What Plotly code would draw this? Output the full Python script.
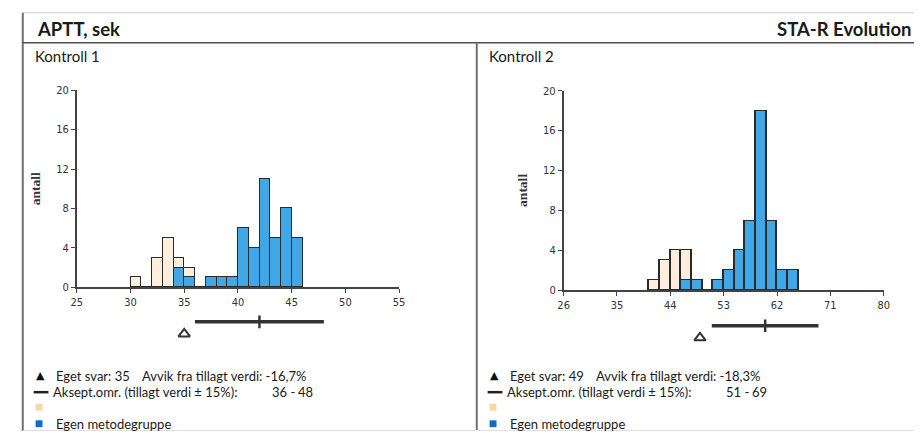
import plotly.graph_objects as go

W, H = 920, 438

# ---------------- data ----------------
k1_bin_edges = [30, 31, 32, 33, 34, 35, 36, 37, 38, 39, 40, 41, 42, 43, 44, 45]
k1_bin_width = 1.0
k1_other = [1, 0, 3, 5, 1, 1, 0, 0, 0, 0, 0, 0, 0, 0, 0, 0]
k1_own = [0, 0, 0, 0, 2, 1, 0, 1, 1, 1, 6, 4, 11, 5, 8, 5]
k1_result = 35
k1_target = 42
k1_accept = [36, 48]
k1_xticks = [25, 30, 35, 40, 45, 50, 55]

k2_bin_edges = [40.4, 42.2, 44.0, 45.8, 47.6, 49.4, 51.2, 53.0, 54.8, 56.6, 58.4, 60.2, 62.0, 63.8]
k2_bin_width = 1.8
k2_other = [1, 3, 4, 3, 0, 0, 0, 0, 0, 0, 0, 0, 0, 0]
k2_own = [0, 0, 0, 1, 1, 0, 1, 2, 4, 7, 18, 7, 2, 2]
k2_result = 49
k2_target = 60
k2_accept = [51, 69]
k2_xticks = [26, 35, 44, 53, 62, 71, 80]

yticks = [0, 4, 8, 12, 16, 20]

leg1 = ["Eget svar: 35", "Avvik fra tillagt verdi: -16,7%", "Aksept.omr. (tillagt verdi ± 15%):", "36 -", "48", "Egen metodegruppe"]
leg2 = ["Eget svar: 49", "Avvik fra tillagt verdi: -18,3%", "Aksept.omr. (tillagt verdi ± 15%):", "51 -", "69", "Egen metodegruppe"]

# ---------------- styles ----------------
C_OWN = "#41A8E8"
C_OTHER = "#FDEEDD"
C_EDGE = "#2a2a2a"
C_AX = "#444444"
TICKFONT = dict(family="Liberation Sans Narrow, DejaVu Sans Condensed, Liberation Sans", size=11, color="#333")
TXT = "Lato, Carlito, Open Sans, sans-serif"


def px(x):
    return x / W


def py(y):
    return 1 - y / H


fig = go.Figure()

for edges, bw, other, own, xa, ya in [
    (k1_bin_edges, k1_bin_width, k1_other, k1_own, "x", "y"),
    (k2_bin_edges, k2_bin_width, k2_other, k2_own, "x2", "y2"),
]:
    fig.add_trace(go.Bar(x=edges, y=own, width=bw, offset=0, marker=dict(color=C_OWN, line=dict(color=C_EDGE, width=1.2)),
                         xaxis=xa, yaxis=ya, showlegend=False, hoverinfo="skip"))
    fig.add_trace(go.Bar(x=edges, y=other, width=bw, offset=0, marker=dict(color=C_OTHER, line=dict(color=C_EDGE, width=1.2)),
                         xaxis=xa, yaxis=ya, showlegend=False, hoverinfo="skip"))

# acceptance range and own result below axes
for acc, tgt, res, xa, ya in [
    (k1_accept, k1_target, k1_result, "x", "y3"),
    (k2_accept, k2_target, k2_result, "x2", "y4"),
]:
    fig.add_trace(go.Scatter(x=acc, y=[0.7, 0.7], mode="lines", line=dict(color="#333", width=3.5),
                             xaxis=xa, yaxis=ya, showlegend=False, hoverinfo="skip"))
    fig.add_trace(go.Scatter(x=[tgt], y=[0.7], mode="markers",
                             marker=dict(symbol="line-ns-open", size=9, color="#333", line=dict(color="#333", width=2.5)),
                             xaxis=xa, yaxis=ya, showlegend=False, hoverinfo="skip"))
    fig.add_trace(go.Scatter(x=[res], y=[0.2], mode="markers",
                             marker=dict(symbol="triangle-up-open", size=10, color="#333", line=dict(color="#333", width=2)),
                             xaxis=xa, yaxis=ya, showlegend=False, hoverinfo="skip"))

axis_common = dict(showline=True, linecolor=C_AX, linewidth=1.5, ticks="outside", ticklen=4, tickwidth=1.2,
                   tickcolor=C_AX, showgrid=False, zeroline=False, tickfont=TICKFONT, fixedrange=True)
ytitle = dict(text="<b>antall</b>", font=dict(family="Liberation Serif, DejaVu Serif, serif", size=13.5, color="#333"), standoff=12)

fig.update_layout(
    width=W, height=H, margin=dict(l=0, r=0, t=0, b=0),
    paper_bgcolor="white", plot_bgcolor="white",
    barmode="stack", bargap=0,
    xaxis=dict(domain=[px(71.7), px(398.3)], range=[25, 55], tickvals=k1_xticks, anchor="y", **axis_common),
    yaxis=dict(domain=[py(290), py(86.7)], range=[0, 20], tickvals=yticks, anchor="x", title=ytitle, **axis_common),
    xaxis2=dict(domain=[px(565), px(889.3)], range=[26, 80], tickvals=k2_xticks, anchor="y2", **axis_common),
    yaxis2=dict(domain=[py(292.7), py(87.3)], range=[0, 20], tickvals=yticks, anchor="x2", title=ytitle, **axis_common),
    yaxis3=dict(domain=[py(343), py(318)], range=[0, 1], visible=False, anchor="x", fixedrange=True),
    yaxis4=dict(domain=[py(347), py(322)], range=[0, 1], visible=False, anchor="x2", fixedrange=True),
)

# frame lines
shapes = [
    dict(type="line", xref="paper", yref="paper", x0=px(17), x1=1, y0=py(7), y1=py(7), line=dict(color="#d0d0d0", width=1)),
    dict(type="line", xref="paper", yref="paper", x0=px(17), x1=px(17), y0=py(7), y1=0, line=dict(color="#707070", width=2)),
    dict(type="line", xref="paper", yref="paper", x0=px(17), x1=1, y0=py(38), y1=py(38), line=dict(color="#505050", width=1.5)),
    dict(type="line", xref="paper", yref="paper", x0=px(477), x1=px(477), y0=py(38), y1=0, line=dict(color="#707070", width=2)),
    dict(type="line", xref="paper", yref="paper", x0=px(17), x1=1, y0=py(437.5), y1=py(437.5), line=dict(color="#e0e0e0", width=1)),
]

ann = []


def txt(x, y, s, size=12, bold=False, color="#1a1a1a", family=TXT):
    ann.append(dict(x=px(x), y=py(y), xref="paper", yref="paper", text=(f"<b>{s}</b>" if bold else s),
                    showarrow=False, xanchor="left", yanchor="middle", borderpad=0,
                    font=dict(family=family, size=size, color=color)))


txt(30, 24, "APTT, sek", size=18.5, bold=True)
txt(780, 24, "STA-R Evolution", size=18.5, bold=True)
txt(28, 52, "Kontroll 1", size=15)
txt(488, 52, "Kontroll 2", size=15)

for off, lg in [(0, leg1), (460, leg2)]:
    txt(off + 29, 381, "▲", size=11, color="#111", family="DejaVu Sans")
    txt(off + 50, 381.5, lg[0], size=13)
    txt(off + 137, 381.5, lg[1], size=13)
    shapes.append(dict(type="line", xref="paper", yref="paper", x0=px(off + 28), x1=px(off + 43), y0=py(398), y1=py(398),
                       line=dict(color="#222", width=2.5)))
    txt(off + 47, 398, lg[2], size=13)
    txt(off + 269, 398, lg[3], size=13)
    txt(off + 295, 398, lg[4], size=13)
    shapes.append(dict(type="rect", xref="paper", yref="paper", x0=px(off + 30), x1=px(off + 37), y0=py(417), y1=py(410),
                       fillcolor="#FDD5A5", line=dict(width=0)))
    shapes.append(dict(type="rect", xref="paper", yref="paper", x0=px(off + 30), x1=px(off + 37), y0=py(434), y1=py(427),
                       fillcolor="#0A6FC9", line=dict(width=0)))
    txt(off + 50, 430.5, lg[5], size=13)

fig.update_layout(shapes=shapes, annotations=ann)

fig.write_html("out.html", post_script="document.body.style.margin='0';", config={"displayModeBar": False})
